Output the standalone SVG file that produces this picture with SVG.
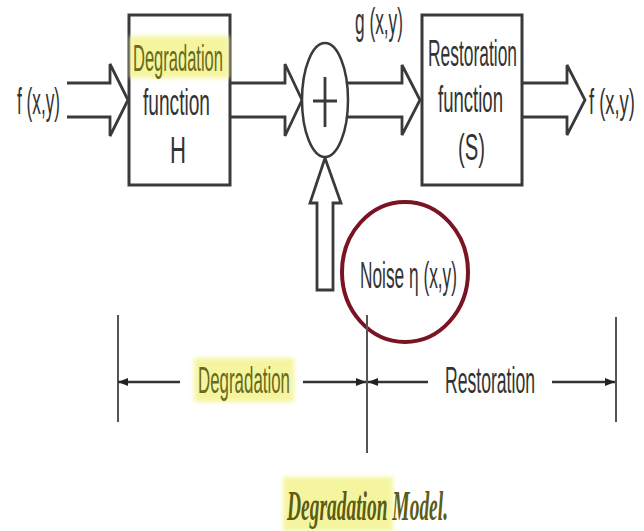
<svg xmlns="http://www.w3.org/2000/svg" width="644" height="531" viewBox="0 0 644 531">
<style>
.ln{fill:none;stroke:#3a3a3a;stroke-width:2.8;stroke-linejoin:miter}
.box{fill:#fff;stroke:#3a3a3a;stroke-width:3}
.t{font-family:"Liberation Sans",Arial,sans-serif;fill:#333;font-size:36px}
.hl{fill:#f5f5a0}
.ol{fill:#6a6a18}
.dim{stroke:#555;stroke-width:2;fill:none}
.da{stroke:#333;stroke-width:2.5;fill:none}
</style>
<defs>
<marker id="ah" viewBox="0 0 10 8" refX="10" refY="4" markerWidth="10" markerHeight="8" markerUnits="userSpaceOnUse" orient="auto">
<path d="M0,0 L10,4 L0,8 Z" fill="#222"/>
</marker>
<filter id="soft" x="-10%" y="-20%" width="120%" height="140%"><feGaussianBlur stdDeviation="2"/></filter>
</defs>
<rect width="644" height="531" fill="#fff"/>

<g id="connectors">
<path class="ln" d="M67,83 H110 V64 L128,100 L110,136 V117 H67"/>
<path class="ln" d="M230,83 H285 V64 L302,100 L285,136 V117 H230"/>
<path class="ln" d="M348,83 H402 V65 L420,100 L402,135 V117 H348"/>
<path class="ln" d="M522,83 H567 V65 L585,100 L567,135 V117 H522"/>
<path class="ln" d="M317,290 V203 H310 L325,158 L341,203 H333 V290 Z"/>
</g>

<g id="input-label"><text class="t" x="17" y="114" font-size="32" textLength="43" lengthAdjust="spacingAndGlyphs">f (x,y)</text></g>
<g id="output-label"><text class="t" transform="translate(589,114) scale(0.51,1)" x="0" y="0" font-size="32">f (x,y)</text></g>
<g id="g-label"><text class="t" x="355" y="34" font-size="32" textLength="48" lengthAdjust="spacingAndGlyphs">g (x,y)</text></g>

<g id="degradation-function">
<rect class="box" x="129" y="15" width="101" height="170"/>
<rect class="hl" x="130" y="36" width="99" height="42" filter="url(#soft)"/>
<text class="t ol" x="133" y="71" textLength="90" lengthAdjust="spacingAndGlyphs">Degradation</text>
<text class="t" x="143" y="115" textLength="67" lengthAdjust="spacingAndGlyphs">function</text>
<text class="t" x="170" y="163" textLength="16" lengthAdjust="spacingAndGlyphs">H</text>
</g>

<g id="sum">
<ellipse cx="325" cy="100" rx="23" ry="57" fill="#fff" stroke="#3a3a3a" stroke-width="2.5"/>
<path class="ln" d="M313,101 H337 M325,77 V127"/>
</g>

<g id="restoration-function">
<rect class="box" x="422" y="15" width="100" height="170"/>
<text class="t" x="428" y="66" textLength="89" lengthAdjust="spacingAndGlyphs">Restoration</text>
<text class="t" x="438" y="112" textLength="65" lengthAdjust="spacingAndGlyphs">function</text>
<text class="t" x="458" y="160" textLength="27" lengthAdjust="spacingAndGlyphs">(S)</text>
</g>

<g id="noise">
<ellipse cx="405" cy="272" rx="63" ry="70" fill="none" stroke="#7a1424" stroke-width="4"/>
<text class="t" x="360" y="288" font-size="34" textLength="97" lengthAdjust="spacingAndGlyphs">Noise η (x,y)</text>
</g>

<g id="dimensions">
<path class="dim" d="M118,315 V422 M367,315 V453 M616,317 V422"/>
<path class="da" d="M180,382 H118" marker-end="url(#ah)"/>
<path class="da" d="M303,382 H366" marker-end="url(#ah)"/>
<path class="da" d="M428,382 H368" marker-end="url(#ah)"/>
<path class="da" d="M552,382 H615" marker-end="url(#ah)"/>
<rect class="hl" x="194" y="358" width="100" height="44" filter="url(#soft)"/>
<text class="t ol" x="198" y="393" font-size="34" textLength="92" lengthAdjust="spacingAndGlyphs">Degradation</text>
<text class="t" x="445" y="393" font-size="34" textLength="90" lengthAdjust="spacingAndGlyphs">Restoration</text>
</g>

<g id="caption">
<rect class="hl" x="283" y="477" width="110" height="54" filter="url(#soft)"/>
<text x="287" y="520" font-family="'Liberation Serif','Times New Roman',serif" font-style="italic" font-weight="bold" font-size="42" fill="#5c5c14" textLength="161" lengthAdjust="spacingAndGlyphs">Degradation Model.</text>
</g>
</svg>
